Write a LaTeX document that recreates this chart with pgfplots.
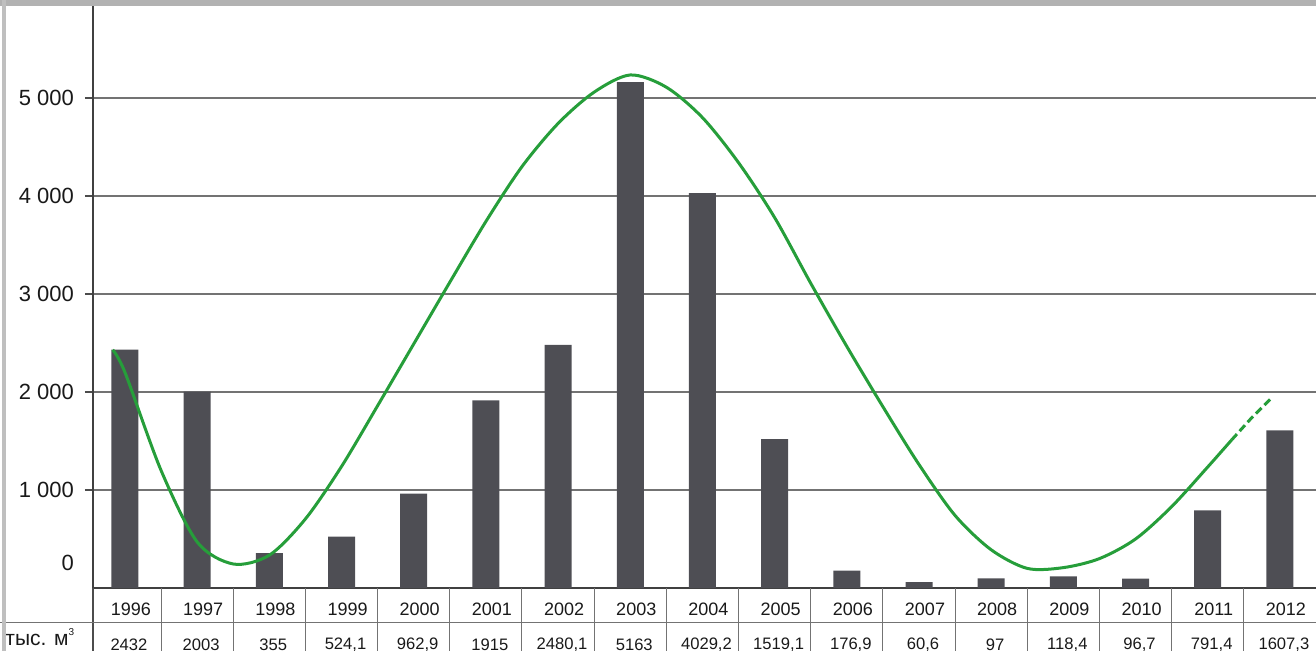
\documentclass[border=0pt]{standalone}
\usepackage{pgfplots}
\pgfplotsset{compat=1.18}
\usepackage{fontspec}
\setmainfont{Liberation Sans}
\definecolor{barc}{RGB}{78,78,84}
\definecolor{trend}{RGB}{38,158,58}
\begin{document}
\begin{tikzpicture}
\begin{axis}[
  scale only axis, width=611.5bp, height=294bp,
  at={(0,0)}, anchor=south west,
  xmin=-0.443, xmax=16.5, ymin=0, ymax=6000,
  axis x line=bottom, axis y line=left,
  axis line style={-, black!75, line width=0.6bp},
  xtick=\empty,
  ytick={1000,2000,3000,4000,5000},
  yticklabels={1 000,2 000,3 000,4 000,5 000},
  extra y ticks={0}, extra y tick labels={0},
  extra y tick style={grid=none, major tick length=0pt, yticklabel style={yshift=12.5bp, xshift=-4bp}},
  tick align=outside, major tick length=4bp,
  tick style={black!70, line width=0.6bp},
  yticklabel style={font=\fontsize{11bp}{13bp}\selectfont, text=black!90, xshift=-2bp},
  ymajorgrids, grid style={black!55, line width=0.6bp},
  clip=false,
]
\addplot[ybar, bar width=13.5bp, fill=barc, draw=none] coordinates {
 (0,2432) (1,2003) (2,355) (3,524.1) (4,962.9) (5,1915) (6,2480.1) (7,5163) (8,4029.2)
 (9,1519.1) (10,176.9) (11,60.6) (12,97) (13,118.4) (14,96.7) (15,791.4) (16,1607.3)};
\addplot[trend, line width=1.5bp, smooth, mark=none] coordinates {
 (-0.17,2430) (0.0,2200) (0.5,1200) (1.0,470) (1.5,245) (2.0,335) (2.5,705) (3.0,1240)
 (3.5,1860) (4.0,2490) (4.5,3120) (5.0,3740) (5.5,4300) (6.0,4740) (6.5,5060) (7.0,5235)
 (7.5,5110) (8.0,4800) (8.5,4340) (9.0,3780) (9.5,3110) (10.0,2465) (10.5,1850) (11.0,1260)
 (11.5,740) (12.0,390) (12.5,200) (13.0,208) (13.5,300) (14.0,500) (14.5,830) (15.0,1235) (15.33,1510)};
\addplot[trend, line width=1.5bp, mark=none, dash pattern=on 4bp off 2bp] coordinates {
 (15.33,1510) (15.6,1730) (15.9,1950)};
% table lines
\draw[black!70, line width=0.6bp] (axis cs:-0.443,0) -- ([yshift=-31.5bp]axis cs:-0.443,0);
\pgfplotsinvokeforeach{0.5,1.5,...,15.5}{
  \draw[black!55, line width=0.5bp] (axis cs:#1,0) -- ([yshift=-31.5bp]axis cs:#1,0);
}
\draw[black!55, line width=0.5bp] ([xshift=-46.5bp,yshift=-17bp]axis cs:-0.443,0) -- ([yshift=-17bp]axis cs:16.5,0);
% years
\begin{scope}[every node/.style={font=\fontsize{9bp}{11bp}\selectfont, text=black!90}]
\node at ([xshift=3bp,yshift=-10.5bp]axis cs:0,0) {1996};
\node at ([xshift=3bp,yshift=-10.5bp]axis cs:1,0) {1997};
\node at ([xshift=3bp,yshift=-10.5bp]axis cs:2,0) {1998};
\node at ([xshift=3bp,yshift=-10.5bp]axis cs:3,0) {1999};
\node at ([xshift=3bp,yshift=-10.5bp]axis cs:4,0) {2000};
\node at ([xshift=3bp,yshift=-10.5bp]axis cs:5,0) {2001};
\node at ([xshift=3bp,yshift=-10.5bp]axis cs:6,0) {2002};
\node at ([xshift=3bp,yshift=-10.5bp]axis cs:7,0) {2003};
\node at ([xshift=3bp,yshift=-10.5bp]axis cs:8,0) {2004};
\node at ([xshift=3bp,yshift=-10.5bp]axis cs:9,0) {2005};
\node at ([xshift=3bp,yshift=-10.5bp]axis cs:10,0) {2006};
\node at ([xshift=3bp,yshift=-10.5bp]axis cs:11,0) {2007};
\node at ([xshift=3bp,yshift=-10.5bp]axis cs:12,0) {2008};
\node at ([xshift=3bp,yshift=-10.5bp]axis cs:13,0) {2009};
\node at ([xshift=3bp,yshift=-10.5bp]axis cs:14,0) {2010};
\node at ([xshift=3bp,yshift=-10.5bp]axis cs:15,0) {2011};
\node at ([xshift=3bp,yshift=-10.5bp]axis cs:16,0) {2012};
\end{scope}
\begin{scope}[every node/.style={font=\fontsize{8.3bp}{10bp}\selectfont, text=black!90}]
\node at ([xshift=2bp,yshift=-28.2bp]axis cs:0,0) {2432};
\node at ([xshift=2bp,yshift=-28.2bp]axis cs:1,0) {2003};
\node at ([xshift=2bp,yshift=-28.2bp]axis cs:2,0) {355};
\node at ([xshift=2bp,yshift=-28.2bp]axis cs:3,0) {524,1};
\node at ([xshift=2bp,yshift=-28.2bp]axis cs:4,0) {962,9};
\node at ([xshift=2bp,yshift=-28.2bp]axis cs:5,0) {1915};
\node at ([xshift=2bp,yshift=-28.2bp]axis cs:6,0) {2480,1};
\node at ([xshift=2bp,yshift=-28.2bp]axis cs:7,0) {5163};
\node at ([xshift=2bp,yshift=-28.2bp]axis cs:8,0) {4029,2};
\node at ([xshift=2bp,yshift=-28.2bp]axis cs:9,0) {1519,1};
\node at ([xshift=2bp,yshift=-28.2bp]axis cs:10,0) {176,9};
\node at ([xshift=2bp,yshift=-28.2bp]axis cs:11,0) {60,6};
\node at ([xshift=2bp,yshift=-28.2bp]axis cs:12,0) {97};
\node at ([xshift=2bp,yshift=-28.2bp]axis cs:13,0) {118,4};
\node at ([xshift=2bp,yshift=-28.2bp]axis cs:14,0) {96,7};
\node at ([xshift=2bp,yshift=-28.2bp]axis cs:15,0) {791,4};
\node at ([xshift=2bp,yshift=-28.2bp]axis cs:16,0) {1607,3};
\end{scope}
\node[font=\fontsize{10.5bp}{12bp}\selectfont, anchor=west, text=black!90, inner sep=0pt] at ([xshift=-44bp,yshift=-24.5bp]axis cs:-0.443,0) {тыс. м\raisebox{0.9ex}{\fontsize{5bp}{6bp}\selectfont 3}};
\end{axis}
\fill[black!30] (-46.5bp,291bp) rectangle (611.5bp,294bp);
\fill[black!25] (-45.5bp,-31.5bp) rectangle (-43.5bp,294bp);
\pgfresetboundingbox
\path[use as bounding box] (-46.5bp,-31.5bp) rectangle (611.5bp,294bp);
\end{tikzpicture}
\end{document}
